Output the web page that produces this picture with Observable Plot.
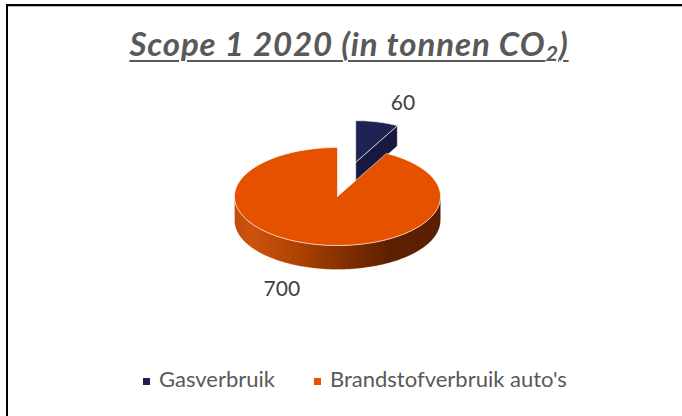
<!DOCTYPE html>
<html>
<head>
<meta charset="utf-8">
<script src="https://cdn.jsdelivr.net/npm/d3@7"></script>
<script src="https://cdn.jsdelivr.net/npm/@observablehq/plot@0.6"></script>
<style>
  body { margin: 0; background: #fff; }
  #wrap { position: relative; width: 682px; height: 416px; overflow: hidden; font-family: Lato, "Open Sans", sans-serif; background: #fff; }
  #chart { position: absolute; left: 0; top: 0; }
  #frame { position: absolute; left: 6px; top: 4px; width: 700px; height: 500px; border-left: 2px solid #000; border-top: 2px solid #000; box-sizing: border-box; }
  #frameShade { position: absolute; left: 8px; top: 6px; width: 700px; height: 1px; background: #b0b0b0; }
  #title { position: absolute; left: 8px; width: 682px; top: 27px; text-align: center; font: italic 700 33px/33px Lato, "Open Sans", sans-serif; letter-spacing: 0.9px; color: #595959; text-decoration: underline; text-decoration-thickness: 2px; text-underline-offset: 4px; white-space: nowrap; }
  #title sub { font-size: 0.66em; vertical-align: -0.24em; line-height: 0; }
  .leg { position: absolute; top: 368px; font: 400 22px/22px Lato, "Open Sans", sans-serif; color: #595959; white-space: nowrap; }
  .leg .sw { position: absolute; width: 7px; height: 7px; top: 10px; left: 0; }
  .leg .tx { position: absolute; left: 16px; top: 0; }
</style>
</head>
<body>
<div id="wrap">
  <div id="frame"></div>
  <div id="frameShade"></div>
  <div id="title"></div>
</div>
<script>
// ---- data ----
const titleMain = "Scope 1 2020 (in tonnen CO";
const titleSub = "2";
const titleEnd = ")";
const categories = ["Gasverbruik", "Brandstofverbruik auto's"];
const values = [60, 700];
const colors = ["#1f2254", "#e65100"];

// ---- layout / style config ----
const CX = 337, CY = 196, RX = 103, RY = 49;   // pie placement in pixels
const DEPTH = 0.49;                            // pie thickness (in y units)
const explode = [0.72, 0];                     // per-slice explosion
const shrink = [0.85, 1];                      // perspective size of exploded slice
const LKX = 2.2, LKY = 1.45;                   // label distance factors

document.getElementById("title").innerHTML =
  titleMain + "<sub>" + titleSub + "</sub>" + titleEnd;

const arcs = d3.pie().sort(null).value(d => d)(values);

function P(cx, cy, r, a, dz = 0) {
  return {x: cx + r * Math.sin(a), y: cy - r * Math.cos(a) + dz};
}
function arcPts(cx, cy, r, a0, a1, dz) {
  const n = Math.max(2, Math.ceil(Math.abs(a1 - a0) / (Math.PI / 180)));
  return d3.range(n + 1).map(i => P(cx, cy, r, a0 + (a1 - a0) * i / n, dz));
}

const slices = arcs.map((a, i) => {
  const mid = (a.startAngle + a.endAngle) / 2;
  const cx = explode[i] * Math.sin(mid);
  const cy = -explode[i] * Math.cos(mid);
  const r = shrink[i];
  const depth = DEPTH * shrink[i];
  const c = {x: cx, y: cy};
  const top = [c, ...arcPts(cx, cy, r, a.startAngle, a.endAngle, 0), c];
  // visible front part of outer wall
  const s0 = Math.max(a.startAngle, Math.PI / 2), s1 = Math.min(a.endAngle, 3 * Math.PI / 2);
  const side = s1 > s0 ? [...arcPts(cx, cy, r, s0, s1, 0), ...arcPts(cx, cy, r, s0, s1, depth).reverse()] : null;
  // visible radial cut faces
  const cuts = [];
  if (Math.sin(a.endAngle) > 1e-6) {
    const o = P(cx, cy, r, a.endAngle);
    cuts.push([c, o, {x: o.x, y: o.y + depth}, {x: cx, y: cy + depth}, c]);
  }
  if (Math.sin(a.startAngle) < -1e-6) {
    const o = P(cx, cy, r, a.startAngle);
    cuts.push([c, o, {x: o.x, y: o.y + depth}, {x: cx, y: cy + depth}, c]);
  }
  const label = {
    x: cx + LKX * r * Math.sin(mid),
    y: cy - LKY * r * Math.cos(mid) + (Math.cos(mid) < 0 ? depth : 0),
    text: String(values[i])
  };
  return {i, top, side, cuts, label};
});

const marks = [];
const edge = {stroke: "#ffffff", strokeWidth: 0.8, strokeOpacity: 0.75};
// draw exploded (back) slices first
const order = slices.slice().sort((a, b) => explode[b.i] - explode[a.i]);
for (const s of order) {
  const col = colors[s.i];
  if (s.side) marks.push(Plot.line(s.side, {x: "x", y: "y", fill: s.i === 1 ? "url(#sideGrad1)" : d3.color(col).darker(1).formatHex(), ...edge, strokeOpacity: 0.35}));
  for (const cf of s.cuts) marks.push(Plot.line(cf, {x: "x", y: "y", fill: d3.color(col).darker(0.85).formatHex(), ...edge}));
  marks.push(Plot.line(s.top, {x: "x", y: "y", fill: col, ...edge}));
}
marks.push(Plot.text(slices.map(s => s.label), {x: "x", y: "y", text: "text", fill: "#404040", fontSize: 21, fontFamily: "Lato, 'Open Sans', sans-serif"}));

const svg = Plot.plot({
  width: 682,
  height: 416,
  margin: 0,
  style: {background: "transparent", overflow: "visible"},
  x: {type: "linear", domain: [-1, 1], range: [CX - RX, CX + RX], axis: null},
  y: {type: "linear", domain: [-1, 1], range: [CY - RY, CY + RY], axis: null},
  marks
});
svg.id = "chart";
const defs = d3.select(svg).insert("defs", ":first-child");
const grad = defs.append("linearGradient").attr("id", "sideGrad1")
  .attr("x1", 0).attr("x2", 1).attr("y1", 0).attr("y2", 0);
[["0%", "#c24a08"], ["8%", "#cb530e"], ["30%", "#b04300"], ["55%", "#7e2e00"], ["75%", "#5f2000"], ["100%", "#5a1e00"]]
  .forEach(([o, c]) => grad.append("stop").attr("offset", o).attr("stop-color", c));

const wrap = document.getElementById("wrap");
wrap.insertBefore(svg, document.getElementById("title"));

// legend
const legLeft = [143, 314];
categories.forEach((cat, i) => {
  const item = document.createElement("div");
  item.className = "leg";
  item.style.left = legLeft[i] + "px";
  item.innerHTML = `<span class="sw" style="background:${colors[i]}"></span><span class="tx"></span>`;
  item.querySelector(".tx").textContent = cat;
  wrap.appendChild(item);
});
</script>
</body>
</html>
